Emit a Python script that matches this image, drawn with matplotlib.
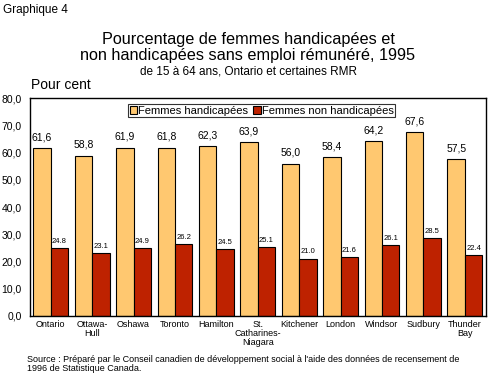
import matplotlib.pyplot as plt
import numpy as np

# Data
villes = ['Ontario', 'Ottawa-\nHull', 'Oshawa', 'Toronto', 'Hamilton',
          'St.\nCatharines-\nNiagara', 'Kitchener', 'London', 'Windsor',
          'Sudbury', 'Thunder\nBay']
handicapees = [61.6, 58.8, 61.9, 61.8, 62.3, 63.9, 56.0, 58.4, 64.2, 67.6, 57.5]
non_handicapees = [24.8, 23.1, 24.9, 26.2, 24.5, 25.1, 21.0, 21.6, 26.1, 28.5, 22.4]

plt.rcParams['font.family'] = ['Liberation Sans', 'DejaVu Sans']

orange = '#FFC870'
rouge = '#BE2200'

fig = plt.figure(figsize=(4.96, 3.74), dpi=100)
ax = fig.add_axes([0.0605, 0.156, 0.9185, 0.581])

x = np.arange(len(villes))
w = 0.42
ax.bar(x - w / 2, handicapees, w, color=orange, edgecolor='black', linewidth=0.8,
       label='Femmes handicapées')
ax.bar(x + w / 2, non_handicapees, w, color=rouge, edgecolor='black', linewidth=0.8,
       label='Femmes non handicapées')

# Value labels
for xi, v in zip(x, handicapees):
    ax.text(xi - w / 2, v + 2.2, f'{v:.1f}'.replace('.', ','), ha='center', va='bottom',
            fontsize=7.5)
for xi, v in zip(x, non_handicapees):
    ax.text(xi + w / 2, v + 1.2, f'{v:.1f}', ha='center', va='bottom', fontsize=5.5)

ax.set_xlim(-0.5, len(villes) - 0.5)
ax.set_ylim(0, 80)
ax.set_yticks(np.arange(0, 81, 10))
ax.set_yticklabels([f'{t:.1f}'.replace('.', ',') for t in np.arange(0, 81, 10)], fontsize=7.5)
ax.set_xticks(x)
ax.set_xticklabels(villes, fontsize=6.5, linespacing=1.0)
ax.tick_params(axis='both', length=0, pad=3)
ax.tick_params(axis='y', pad=6)
for s in ax.spines.values():
    s.set_color('black')
    s.set_linewidth(1.0)

leg = ax.legend(loc='upper left', bbox_to_anchor=(0.21, 0.985), ncol=2, fontsize=8,
                frameon=True, fancybox=False, edgecolor='black', handlelength=0.7,
                handleheight=0.7, handletextpad=0.1, columnspacing=0.4,
                borderpad=0.15, borderaxespad=0.2)
leg.get_frame().set_linewidth(0.8)

fig.text(0.006, 0.988, 'Graphique 4', fontsize=8.5, va='top')
fig.text(0.5, 0.894, 'Pourcentage de femmes handicapées et', fontsize=11.7, ha='center', va='center')
fig.text(0.5, 0.852, 'non handicapées sans emploi rémunéré, 1995', fontsize=11.7, ha='center', va='center')
fig.text(0.5, 0.808, 'de 15 à 64 ans, Ontario et certaines RMR', fontsize=8.5, ha='center', va='center')
fig.text(0.062, 0.772, 'Pour cent', fontsize=10, va='center')
fig.text(0.054, 0.026, "Source : Préparé par le Conseil canadien de développement social à l'aide des données de recensement de\n1996 de Statistique Canada.",
         fontsize=6.5, va='center', linespacing=1.05)

fig.savefig('out.png', dpi=100)
